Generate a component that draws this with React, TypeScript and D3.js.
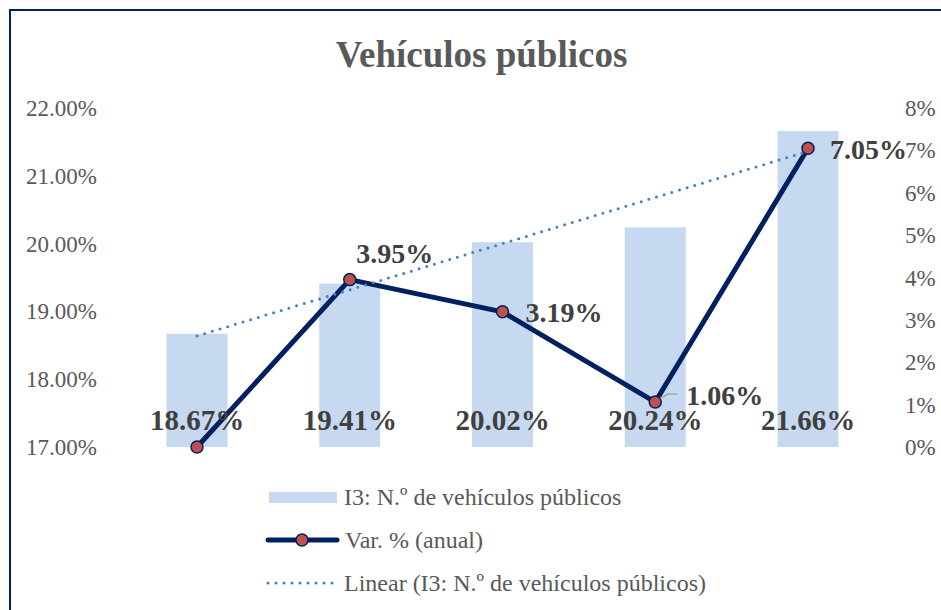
import React from 'react';
import * as d3 from 'd3';

// datos
const categorias = ['c1', 'c2', 'c3', 'c4', 'c5'];
const vehiculos = [18.67, 19.41, 20.02, 20.24, 21.66]; // I3 (%)
const variacion = [0, 3.95, 3.19, 1.06, 7.05]; // Var. % anual
const ticksIzq = [17, 18, 19, 20, 21, 22];
const ticksDer = [0, 1, 2, 3, 4, 5, 6, 7, 8];

const titulo = 'Vehículos públicos';
const leyenda = [
  'I3: N.º de vehículos públicos',
  'Var. % (anual)',
  'Linear (I3: N.º de vehículos públicos)',
];

const W = 941;
const H = 610;
const FONT = '"Liberation Serif", "Times New Roman", serif';
const NAVY = '#002060';
const MARK = '#C0504D';
const BAR = '#C6D9F0';
const TREND = '#4A7EC4';
const GRIS = '#595959';
const ETIQ = '#404040';

// desplazamiento de cada etiqueta de la línea respecto al punto
const offsets = [
  null,
  { dx: 45, dy: -17, anchor: 'middle' },
  { dx: 23, dy: 10, anchor: 'start' },
  { dx: 31, dy: 3, anchor: 'start' },
  { dx: 22, dy: 11, anchor: 'start' },
];

export default function App() {
  const x = d3.scalePoint<string>().domain(categorias).range([197, 808]);
  const barW = 61;
  const yL = d3.scaleLinear().domain([17, 22]).range([447, 108]);
  const yR = d3.scaleLinear().domain([0, 8]).range([447, 108]);

  // tendencia lineal (mínimos cuadrados) sobre las barras
  const n = vehiculos.length;
  const xs = d3.range(1, n + 1);
  const mx = d3.mean(xs) as number;
  const my = d3.mean(vehiculos) as number;
  const slope =
    d3.sum(xs, (v, i) => (v - mx) * (vehiculos[i] - my)) /
    d3.sum(xs, (v) => (v - mx) * (v - mx));
  const trend = xs.map((v) => my + slope * (v - mx));

  const linea = d3
    .line<number>()
    .x((_, i) => x(categorias[i]) as number)
    .y((d) => yR(d));
  const lineaTrend = d3
    .line<number>()
    .x((_, i) => x(categorias[i]) as number)
    .y((d) => yL(d));

  const pct = (v: number) => v.toFixed(2) + '%';
  const px4 = x(categorias[3]) as number;
  const py4 = yR(variacion[3]);

  return (
    <svg
      width={W}
      height={H}
      style={{ position: 'absolute', left: 0, top: 0, background: '#fff' }}
      fontFamily={FONT}
    >
      <rect x={0} y={0} width={W} height={H} fill="#fff" />
      <rect x={10} y={10} width={W + 20} height={H + 20} fill="none" stroke={NAVY} strokeWidth={2} />

      <text x={481.5} y={67} textAnchor="middle" fontSize={37} fontWeight="bold" fill={GRIS}>
        {titulo}
      </text>

      {/* eje izquierdo */}
      {ticksIzq.map((t) => (
        <text key={'l' + t} x={97} y={yL(t)} dy="0.35em" textAnchor="end" fontSize={23} fill={GRIS}>
          {t.toFixed(2) + '%'}
        </text>
      ))}
      {/* eje derecho */}
      {ticksDer.map((t) => (
        <text key={'r' + t} x={905} y={yR(t)} dy="0.35em" textAnchor="start" fontSize={23} fill={GRIS}>
          {t + '%'}
        </text>
      ))}

      {/* barras */}
      {vehiculos.map((v, i) => (
        <rect
          key={'b' + i}
          x={(x(categorias[i]) as number) - barW / 2}
          y={yL(v)}
          width={barW}
          height={yL(17) - yL(v)}
          fill={BAR}
        />
      ))}

      {/* línea de variación */}
      <path d={linea(variacion) || ''} fill="none" stroke={NAVY} strokeWidth={5} strokeLinejoin="round" />
      {variacion.map((v, i) => (
        <circle
          key={'m' + i}
          cx={x(categorias[i]) as number}
          cy={yR(v)}
          r={6}
          fill={MARK}
          stroke={NAVY}
          strokeWidth={1.5}
        />
      ))}

      {/* tendencia */}
      <path
        d={lineaTrend(trend) || ''}
        fill="none"
        stroke={TREND}
        strokeWidth={3}
        strokeDasharray="0 8"
        strokeLinecap="round"
      />

      {/* etiquetas de barras */}
      {vehiculos.map((v, i) => (
        <text
          key={'eb' + i}
          x={x(categorias[i]) as number}
          y={430}
          textAnchor="middle"
          fontSize={29}
          fontWeight="bold"
          fill={ETIQ}
        >
          {pct(v)}
        </text>
      ))}

      {/* guía de la etiqueta 1.06% */}
      <polyline
        points={`${px4 + 5},${py4 - 4} ${px4 + 13},${py4 - 8} ${px4 + 22},${py4 - 8}`}
        fill="none"
        stroke="#A6A6A6"
        strokeWidth={1.5}
      />

      {/* etiquetas de la línea */}
      {variacion.map((v, i) => {
        const o = offsets[i];
        if (!o) return null;
        return (
          <text
            key={'el' + i}
            x={(x(categorias[i]) as number) + o.dx}
            y={yR(v) + o.dy}
            textAnchor={o.anchor as any}
            fontSize={28}
            fontWeight="bold"
            fill={ETIQ}
          >
            {pct(v)}
          </text>
        );
      })}

      {/* leyenda */}
      <rect x={269} y={492} width={68} height={11} fill={BAR} />
      <text x={344} y={505} fontSize={24} fill={GRIS}>{leyenda[0]}</text>

      <line x1={268} x2={337} y1={540} y2={540} stroke={NAVY} strokeWidth={5} strokeLinecap="round" />
      <circle cx={302} cy={540} r={6} fill={MARK} stroke={NAVY} strokeWidth={1.5} />
      <text x={345} y={548} fontSize={24} fill={GRIS}>{leyenda[1]}</text>

      <line
        x1={268}
        x2={337}
        y1={583}
        y2={583}
        stroke={TREND}
        strokeWidth={3}
        strokeDasharray="0 8"
        strokeLinecap="round"
      />
      <text x={344} y={591} fontSize={24} fill={GRIS}>{leyenda[2]}</text>
    </svg>
  );
}
